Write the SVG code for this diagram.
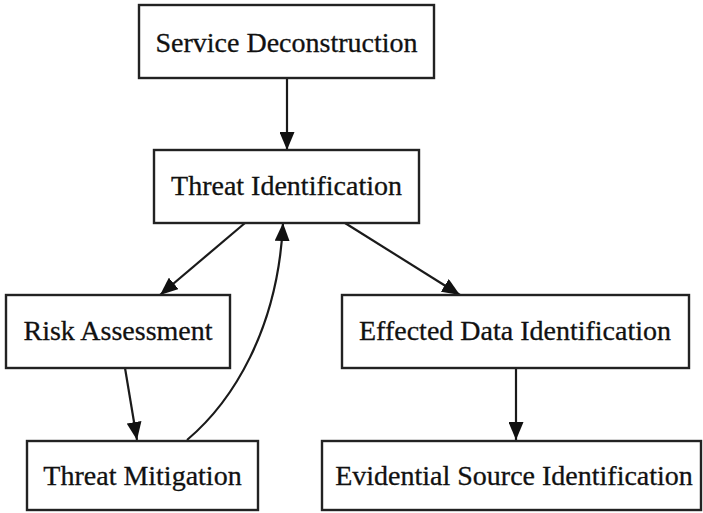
<svg xmlns="http://www.w3.org/2000/svg" width="703" height="513" viewBox="0 0 703 513">
<defs>
<style>
.box{fill:#fff;stroke:#222;stroke-width:2.4}
.lbl{font-family:"Liberation Serif","Times New Roman",serif;font-size:28px;fill:#111;text-anchor:middle;stroke:#111;stroke-width:0.3}
.edge{fill:none;stroke:#1a1a1a;stroke-width:2.2}
</style>
<marker id="ah" markerUnits="userSpaceOnUse" markerWidth="18" markerHeight="15" refX="18" refY="7.5" orient="auto">
<path d="M0,0 L18,7.5 L0,15 Z" fill="#111"/>
</marker>
</defs>
<rect width="703" height="513" fill="#fff"/>
<g id="connectors">
<path class="edge" d="M287,78 L287,150" marker-end="url(#ah)"/>
<path class="edge" d="M245,223 L160,295" marker-end="url(#ah)"/>
<path class="edge" d="M345,223 L460,295" marker-end="url(#ah)"/>
<path class="edge" d="M125,368 L137,440" marker-end="url(#ah)"/>
<path class="edge" d="M187,440 C232,402 278,330 283,223" marker-end="url(#ah)"/>
<path class="edge" d="M516,368 L516,440" marker-end="url(#ah)"/>
</g>
<g id="service-deconstruction">
<rect class="box" x="139" y="5" width="295" height="73"/>
<text class="lbl" x="286.5" y="52">Service Deconstruction</text>
</g>
<g id="threat-identification">
<rect class="box" x="154" y="150" width="265" height="73"/>
<text class="lbl" x="286.5" y="195">Threat Identification</text>
</g>
<g id="risk-assessment">
<rect class="box" x="6" y="295" width="224" height="73"/>
<text class="lbl" x="118" y="340">Risk Assessment</text>
</g>
<g id="effected-data-identification">
<rect class="box" x="342" y="295" width="347" height="73"/>
<text class="lbl" x="515" y="340">Effected Data Identification</text>
</g>
<g id="threat-mitigation">
<rect class="box" x="27" y="441" width="231" height="69"/>
<text class="lbl" x="142.5" y="485">Threat Mitigation</text>
</g>
<g id="evidential-source-identification">
<rect class="box" x="322" y="441" width="379" height="69"/>
<text class="lbl" x="514" y="485">Evidential Source Identification</text>
</g>
</svg>
